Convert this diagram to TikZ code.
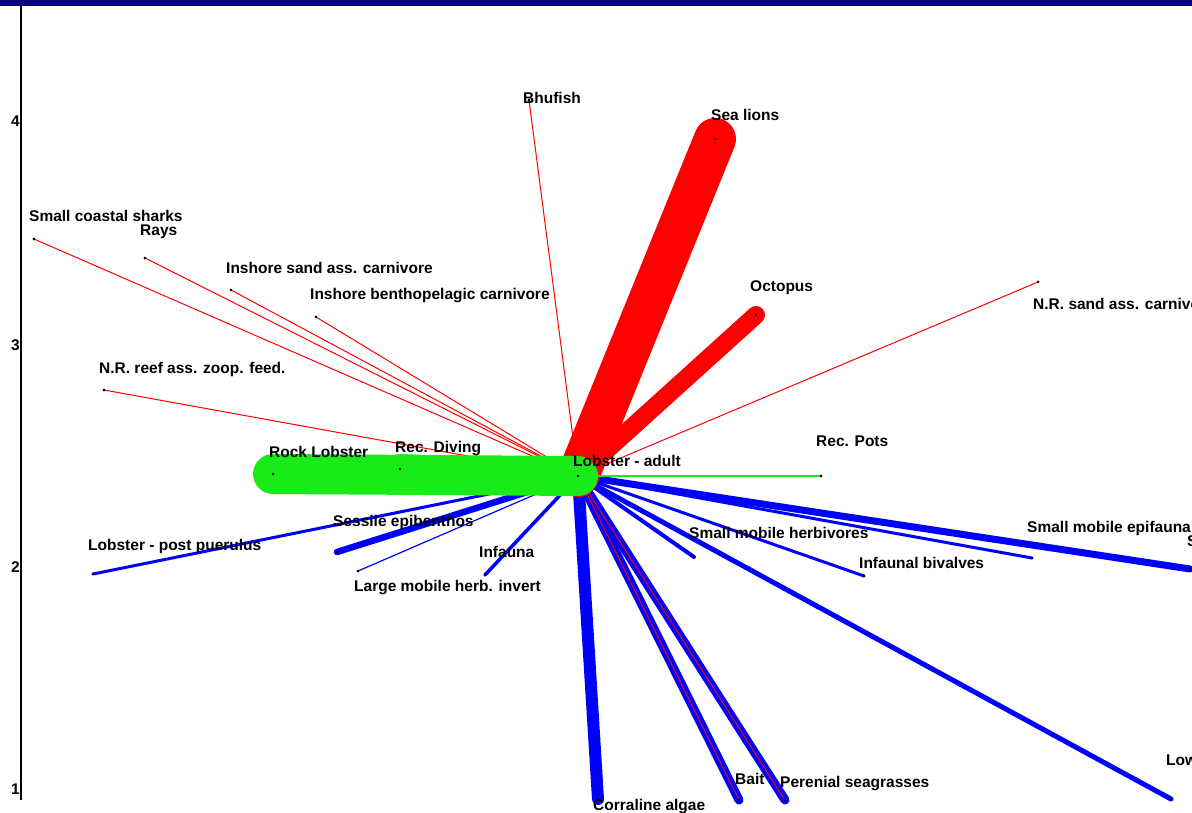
\documentclass[tikz,border=0pt]{standalone}
\usepackage{fontspec}
\setmainfont{Liberation Sans}
\definecolor{navybar}{RGB}{0,0,128}
\definecolor{lgreen}{RGB}{25,235,25}
\definecolor{pblue}{RGB}{0,0,255}
\definecolor{pred}{RGB}{255,0,0}
\begin{document}
\begin{tikzpicture}[x=1pt,y=-1pt,
  dot/.style={circle,fill=black,inner sep=0pt,minimum size=2.6pt},
  lab/.style={anchor=base west,inner sep=0pt,font=\fontsize{15.5}{18}\selectfont\bfseries},
  ticklab/.style={anchor=base east,inner sep=0pt,font=\fontsize{15.5}{18}\selectfont\bfseries},
  bl/.style={draw=pblue,line cap=round},
  rd/.style={draw=pred,line cap=round},
  gr/.style={draw=lgreen,line cap=round}]
\useasboundingbox (0,0) rectangle (1192,813);
\clip (0,0) rectangle (1192,813);
\fill[white] (0,0) rectangle (1192,813);
\fill[navybar] (0,0) rectangle (1192,6);
% axis
\coordinate (axtop) at (21,6);
\coordinate (axbot) at (21,800);
\draw[line width=1.5pt] (axtop) -- (axbot);
\node[ticklab] (t4) at (20,127) {4};
\node[ticklab] (t3) at (20,350) {3};
\node[ticklab] (t2) at (20,572) {2};
\node[ticklab] (t1) at (20,794) {1};
% node positions
\node[dot] (la)   at (578,476) {};
\node[dot] (rock) at (273,474) {};
\node[dot] (div)  at (400,469) {};
\node[dot] (pots) at (821,476) {};
\node[dot] (sea)  at (715,139) {};
\node[dot] (oct)  at (756,315) {};
\node[dot] (bhu)  at (529,100) {};
\node[dot] (nrs)  at (1038,282) {};
\node[dot] (scs)  at (34,239) {};
\node[dot] (rays) at (145,258) {};
\node[dot] (isc)  at (231,290) {};
\node[dot] (ibc)  at (316,317) {};
\node[dot] (nrr)  at (104,390) {};
\node[dot] (lpp)  at (93,574) {};
\node[dot] (ses)  at (337,552) {};
\node[dot] (lmh)  at (358,571) {};
\node[dot] (inf)  at (485,575) {};
\node[dot] (smh)  at (694,557) {};
\node[dot] (ibv)  at (864,576) {};
\node[dot] (sme)  at (1032,558) {};
\node[dot] (sx)   at (1190,569) {};
\node[dot] (low)  at (1171,799) {};
\node[dot] (cor)  at (598,799) {};
\node[dot] (bait) at (739,800) {};
\node[dot] (per)  at (785,800) {};
% blue connectors
\draw[bl,line width=3pt]   (la.center) -- (lpp.center);
\draw[bl,line width=6.5pt] (la.center) -- (ses.center);
\draw[bl,line width=1.2pt] (la.center) -- (lmh.center);
\draw[bl,line width=3.5pt] (la.center) -- (inf.center);
\draw[bl,line width=4pt]   (la.center) -- (smh.center);
\draw[bl,line width=3pt]   (la.center) -- (ibv.center);
\draw[bl,line width=3pt]   (la.center) -- (sme.center);
\draw[bl,line width=7pt]   (la.center) -- (sx.center);
\draw[bl,line width=5pt]   (la.center) -- (low.center);
\draw[bl,line width=12pt]  (la.center) -- (cor.center);
\draw[bl,line width=9pt]   (la.center) -- (bait.center);
\draw[bl,line width=9pt]   (la.center) -- (per.center);
% red connectors
\draw[rd,line width=0.9pt] (la.center) -- (bait.center);
\draw[rd,line width=0.9pt] (la.center) -- (per.center);
\draw[rd,line width=42pt]  (la.center) -- (sea.center);
\draw[rd,line width=18pt]  (la.center) -- (oct.center);
\draw[rd,line width=1pt]   (la.center) -- (bhu.center);
\draw[rd,line width=1pt]   (la.center) -- (nrs.center);
\draw[rd,line width=1pt]   (la.center) -- (scs.center);
\draw[rd,line width=1pt]   (la.center) -- (rays.center);
\draw[rd,line width=1pt]   (la.center) -- (isc.center);
\draw[rd,line width=1pt]   (la.center) -- (ibc.center);
\draw[rd,line width=1pt]   (la.center) -- (nrr.center);
% green connectors
\draw[gr,line width=40pt]  (la.center) -- (rock.center);
\draw[gr,line width=30pt]  (la.center) -- (div.center);
\draw[gr,line width=1.5pt] (la.center) -- (pots.center);
% dots on top
\foreach \n in {la,rock,div,pots,sea,oct,bhu,nrs,scs,rays,isc,ibc,nrr,lpp,ses,lmh,inf,smh,ibv,sme,sx,low,cor,bait,per}
  \fill[black] (\n.center) circle (1.3pt);
% labels
\node[lab] (la-l)   at (573,466) {Lobster - adult};
\node[lab] (rock-l) at (269,457) {Rock Lobster};
\node[lab] (div-l)  at (395,452) {Rec. Diving};
\node[lab] (pots-l) at (816,446) {Rec. Pots};
\node[lab] (sea-l)  at (711,121) {Sea lions};
\node[lab] (oct-l)  at (750,291) {Octopus};
\node[lab] (bhu-l)  at (523,104) {Bhufish};
\node[lab] (nrs-l)  at (1033,309) {N.R. sand ass. carnivore};
\node[lab] (scs-l)  at (29,222) {Small coastal sharks};
\node[lab] (rays-l) at (140,236) {Rays};
\node[lab] (isc-l)  at (226,273) {Inshore sand ass. carnivore};
\node[lab] (ibc-l)  at (310,299) {Inshore benthopelagic carnivore};
\node[lab] (nrr-l)  at (99,373) {N.R. reef ass. zoop. feed.};
\node[lab] (lpp-l)  at (88,550) {Lobster - post puerulus};
\node[lab] (ses-l)  at (333,526) {Sessile epibenthos};
\node[lab] (lmh-l)  at (354,591) {Large mobile herb. invert};
\node[lab] (inf-l)  at (479,557) {Infauna};
\node[lab] (smh-l)  at (689,538) {Small mobile herbivores};
\node[lab] (ibv-l)  at (859,568) {Infaunal bivalves};
\node[lab] (sme-l)  at (1027,532) {Small mobile epifauna};
\node[lab] (sx-l)   at (1187,546) {S};
\node[lab] (low-l)  at (1166,765) {Low};
\node[lab] (cor-l)  at (593,810) {Corraline algae};
\node[lab] (bait-l) at (735,784) {Bait};
\node[lab] (per-l)  at (780,787) {Perenial seagrasses};
\end{tikzpicture}
\end{document}
